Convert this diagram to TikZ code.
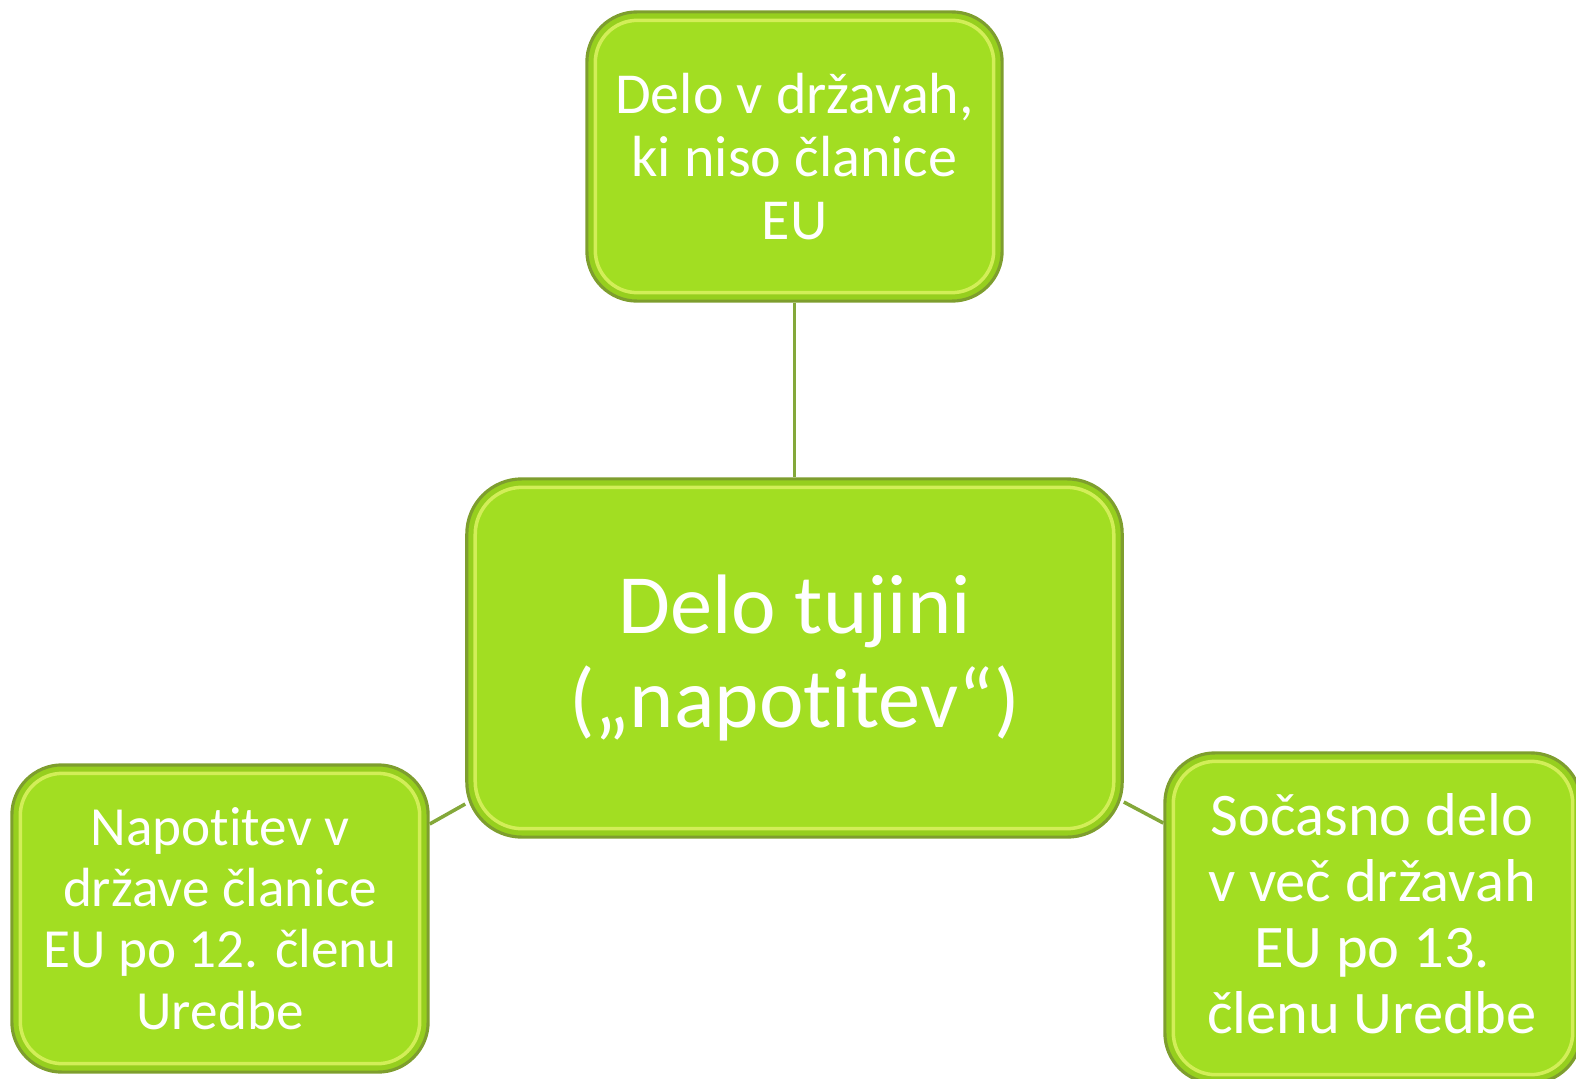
\documentclass[tikz,border=0pt]{standalone}
\usepackage{fontspec}
\setmainfont[Ligatures={NoCommon}]{Carlito}
\definecolor{rimgreen}{HTML}{96CF1E}
\definecolor{facegreen}{HTML}{A2DE22}
\definecolor{edgegreen}{HTML}{7E9E2E}
\definecolor{hilite}{HTML}{D2EE58}
\definecolor{linkgreen}{HTML}{84A83A}
\tikzset{
  gbox/.style={draw=edgegreen, line width=0.9pt, fill=rimgreen, rounded corners=0.5cm,
    align=center, text=white, inner sep=0pt},
  bevel/.style={draw=hilite, line width=1pt, fill=facegreen, rounded corners=0.42cm},
  link/.style={draw=linkgreen, line width=1pt}
}
\begin{document}
\begin{tikzpicture}[x=0.01cm,y=-0.01cm]
\useasboundingbox (0,0) rectangle (1576,1079);
% boxes
\node[gbox, minimum width=4.15cm, minimum height=2.89cm] (top) at (794.5,156.5) {};
\node[gbox, minimum width=6.55cm, minimum height=3.58cm, rounded corners=0.55cm] (mid) at (794.5,658) {};
\node[gbox, minimum width=4.16cm, minimum height=3.07cm] (left) at (220,918.5) {};
\node[gbox, minimum width=4.16cm, minimum height=3.30cm] (right) at (1373,918) {};
% bevels
\foreach \n in {top,left,right}{
  \draw[bevel] ([shift={(10,10)}]\n.north west) rectangle ([shift={(-10,-10)}]\n.south east);
}
\draw[bevel, rounded corners=0.47cm] ([shift={(10,10)}]mid.north west) rectangle ([shift={(-10,-10)}]mid.south east);
% texts
\node[align=center, text=white, font=\fontsize{16.5}{17.9}\selectfont] (toptxt) at (top.center) {Delo v državah,\\ki niso članice\\EU};
\node[align=center, text=white, font=\fontsize{24}{27}\selectfont] (midtxt) at (mid.center) {Delo tujini\\(„napotitev“)};
\node[align=center, text=white, font=\fontsize{15.7}{17.4}\selectfont] (lefttxt) at (left.center) {Napotitev v\\države članice\\EU po 12. členu\\Uredbe};
\node[align=center, text=white, font=\fontsize{17.2}{18.8}\selectfont] (righttxt) at (1372,914) {Sočasno delo\\v več državah\\EU po 13.\\členu Uredbe};
% connectors
\draw[link] (top.south) -- (mid.north);
\draw[link] (left.east |- 0,824) -- (mid.west |- 0,804);
\draw[link] (mid.east |- 0,802) -- (right.west |- 0,823);
\end{tikzpicture}
\end{document}
